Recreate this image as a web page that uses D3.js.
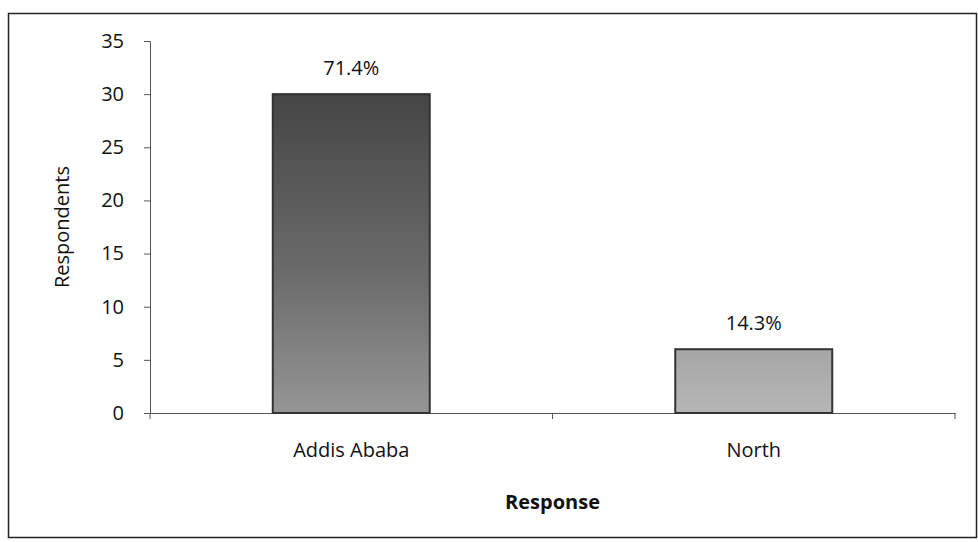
<!DOCTYPE html>
<html><head><meta charset="utf-8">
<script src="https://cdn.jsdelivr.net/npm/d3@7"></script>
<style>body{margin:0;background:#fff}svg{display:block}text{font-family:"Open Sans","Noto Sans",sans-serif;fill:#111}</style>
</head><body>
<script>
const categories = ["Addis Ababa", "North"];
const values = [30, 6];
const percentLabels = ["71.4%", "14.3%"];
const yTicks = [0, 5, 10, 15, 20, 25, 30, 35];

(function () {
const W = 978, H = 542;
const svg = d3.select("body").append("svg").attr("width", W).attr("height", H);

const defs = svg.append("defs");
const g1 = defs.append("linearGradient").attr("id", "gA").attr("x1", 0).attr("x2", 0).attr("y1", 0).attr("y2", 1);
g1.append("stop").attr("offset", "0%").attr("stop-color", "#454545");
g1.append("stop").attr("offset", "55%").attr("stop-color", "#6a6a6a");
g1.append("stop").attr("offset", "100%").attr("stop-color", "#959595");
const g2 = defs.append("linearGradient").attr("id", "gB").attr("x1", 0).attr("x2", 0).attr("y1", 0).attr("y2", 1);
g2.append("stop").attr("offset", "0%").attr("stop-color", "#a6a6a6");
g2.append("stop").attr("offset", "100%").attr("stop-color", "#b6b6b6");
const fills = ["url(#gA)", "url(#gB)"];

svg.append("rect").attr("x", 8.5).attr("y", 13.5).attr("width", 968).attr("height", 524)
  .attr("fill", "none").attr("stroke", "#222").attr("stroke-width", 1.5);

const pL = 150, pR = 955, pT = 41, pB = 413;
const x = d3.scaleBand().domain(categories).range([pL, pR]).padding(0);
const y = d3.scaleLinear().domain([0, 35]).range([pB, pT]);

const yAxis = svg.append("g").attr("transform", `translate(${pL},0)`)
  .call(d3.axisLeft(y).tickValues(yTicks).tickSize(6).tickPadding(20));
yAxis.select(".domain").attr("stroke", "#555");
yAxis.selectAll(".tick line").attr("stroke", "#555");
yAxis.selectAll("text").attr("font-size", 20).attr("fill", "#111");

const xAxis = svg.append("g").attr("transform", `translate(0,${pB})`)
  .call(d3.axisBottom(x).tickSize(0).tickPadding(30));
xAxis.select(".domain").attr("stroke", "#555");
xAxis.selectAll("text").attr("font-size", 20).attr("fill", "#111");
const bounds = [pL, pL + x.step(), pR];
svg.append("g").selectAll("line").data(bounds).join("line")
  .attr("x1", d => d).attr("x2", d => d).attr("y1", pB).attr("y2", pB + 6)
  .attr("stroke", "#555");

const bw = x.bandwidth() * 0.39;
svg.append("g").selectAll("rect").data(values).join("rect")
  .attr("x", (d, i) => x(categories[i]) + x.bandwidth() / 2 - bw / 2)
  .attr("y", d => y(d))
  .attr("width", bw)
  .attr("height", d => y(0) - y(d))
  .attr("fill", (d, i) => fills[i])
  .attr("stroke", "#333").attr("stroke-width", 2);

svg.append("g").selectAll("text").data(values).join("text")
  .attr("x", (d, i) => x(categories[i]) + x.bandwidth() / 2)
  .attr("y", d => y(d) - 19)
  .attr("text-anchor", "middle").attr("font-size", 20)
  .text((d, i) => percentLabels[i]);

svg.append("text").attr("transform", `translate(69,${(pT + pB) / 2}) rotate(-90)`)
  .attr("text-anchor", "middle").attr("font-size", 20).text("Respondents");
svg.append("text").attr("x", (pL + pR) / 2).attr("y", 509)
  .attr("text-anchor", "middle").attr("font-size", 20).attr("font-weight", "bold").text("Response");
})();
</script>
</body></html>
